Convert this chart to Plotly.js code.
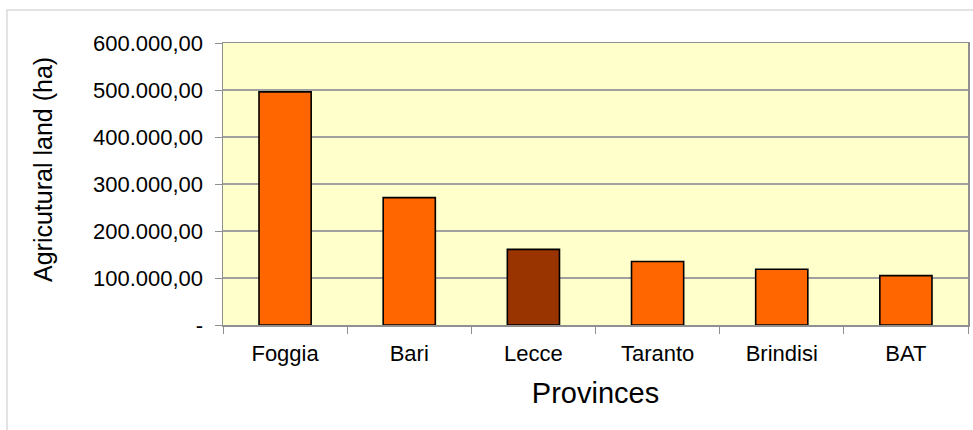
<!DOCTYPE html>
<html>
<head>
<meta charset="utf-8">
<script src="https://cdn.plot.ly/plotly-3.0.1.min.js"></script>
<style>
html,body{margin:0;padding:0;background:#fff;}
#chart{width:973px;height:430px;}
</style>
</head>
<body>
<div id="chart"></div>
<script>
const provinces = ["Foggia", "Bari", "Lecce", "Taranto", "Brindisi", "BAT"];
const agriculturalLand = [496000, 271000, 161000, 135000, 118500, 105000];
const barColors = ["#FF6600", "#FF6600", "#993300", "#FF6600", "#FF6600", "#FF6600"];
const yTickVals = [0, 100000, 200000, 300000, 400000, 500000, 600000];
const yTickText = ["-", "100.000,00", "200.000,00", "300.000,00", "400.000,00", "500.000,00", "600.000,00"];

const W = 973, H = 430;
const L = 223, R = 5, T = 43, B = 105;
const pw = W - L - R, ph = H - T - B;
const px = v => (v - L) / pw;
const py = v => (H - B - v) / ph;

const font = "Liberation Sans, Arial, sans-serif";

Plotly.newPlot("chart", [{
  type: "bar",
  x: provinces,
  y: agriculturalLand,
  marker: {color: barColors, line: {color: "#000000", width: 1.6}},
  hoverinfo: "x+y"
}], {
  width: W, height: H,
  margin: {l: L, r: R, t: T, b: B, pad: 0},
  paper_bgcolor: "rgba(0,0,0,0)",
  plot_bgcolor: "#FFFFCC",
  bargap: 0.58,
  showlegend: false,
  font: {family: font, color: "#000"},
  xaxis: {
    type: "category",
    tickson: "boundaries",
    ticks: "outside",
    ticklen: 7,
    tickcolor: "#909090",
    ticklabelstandoff: 8,
    tickfont: {size: 22, family: font, color: "#000"},
    showline: true, linecolor: "#909090", linewidth: 1.5,
    mirror: true,
    showgrid: false,
    title: {text: "Provinces", font: {size: 29, family: font, color: "#000"}, standoff: 18}
  },
  yaxis: {
    range: [0, 600000],
    tickmode: "array",
    tickvals: yTickVals,
    ticktext: yTickText,
    ticks: "outside",
    ticklen: 7,
    tickcolor: "#909090",
    ticklabelstandoff: 7,
    tickfont: {size: 22, family: font, color: "#000"},
    showline: true, linecolor: "#909090", linewidth: 1.5,
    mirror: true,
    showgrid: true, gridcolor: "#A0A0A0", gridwidth: 1.2,
    zeroline: false
  },
  shapes: [{
    type: "rect", xref: "paper", yref: "paper",
    x0: px(7), x1: px(990), y0: py(445), y1: py(10),
    line: {color: "#DADADA", width: 1.5},
    fillcolor: "rgba(0,0,0,0)",
    layer: "below"
  }],
  annotations: [{
    text: "Agricutural land (ha)",
    xref: "paper", yref: "paper",
    x: px(43), y: py(170),
    xanchor: "center", yanchor: "middle",
    textangle: -90,
    showarrow: false,
    font: {size: 25, family: font, color: "#000"}
  }]
}, {displayModeBar: false, staticPlot: true});
</script>
</body>
</html>
